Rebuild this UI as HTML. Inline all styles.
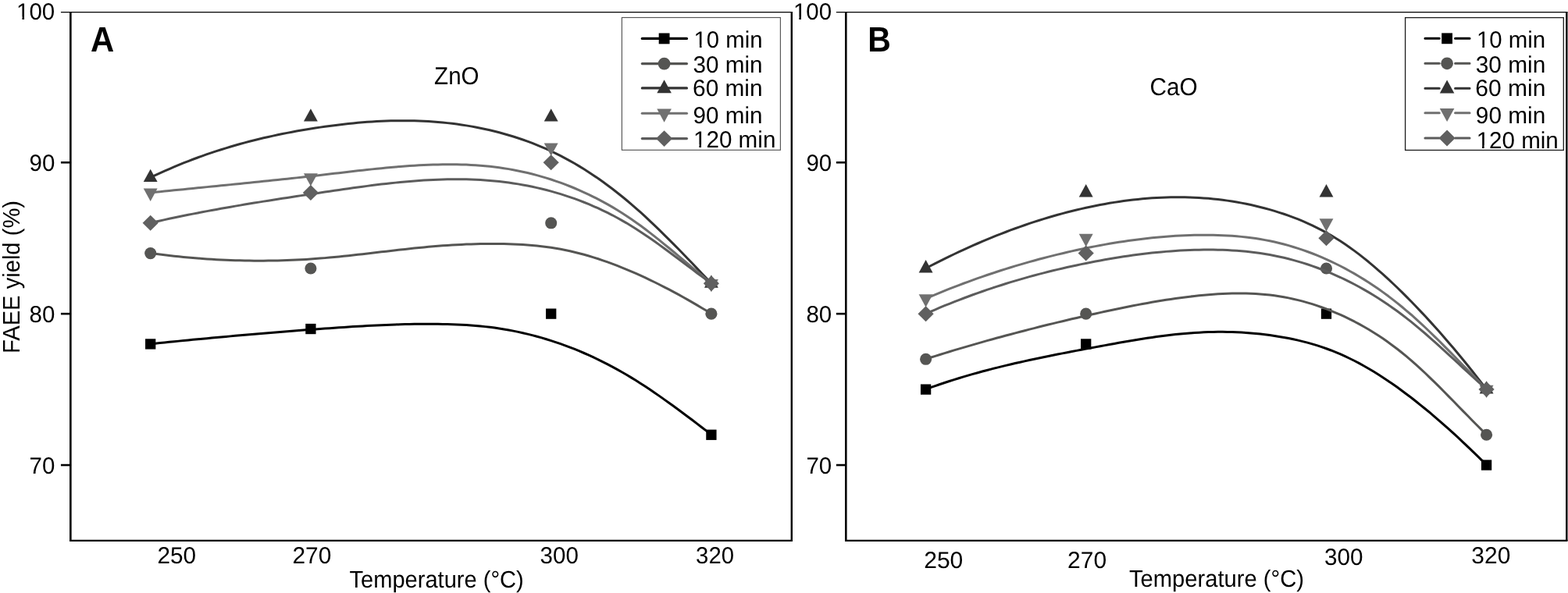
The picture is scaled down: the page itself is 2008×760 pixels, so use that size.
<!DOCTYPE html>
<html lang="en"><head><meta charset="utf-8"><title>FAEE yield vs temperature</title>
<style>html,body{margin:0;padding:0;background:#fff;}body{width:2008px;height:760px;overflow:hidden;}svg{display:block;}text{font-family:"Liberation Sans", sans-serif;fill:#000;text-rendering:geometricPrecision;}</style></head><body>
<svg width="2008" height="760" viewBox="0 0 2008 760">
<defs><clipPath id="c1" clipPathUnits="userSpaceOnUse"><path clip-rule="evenodd" d="M-5,-40H400V15H-5Z M0,-3.3H7.42V1H0Z M10.03,-3.3H16.2V1H10.03Z"/></clipPath></defs>
<rect x="0" y="0" width="2008" height="760" fill="#fff"/>
<g stroke="#000" fill="none">
<line x1="77.94999999999999" y1="15.6" x2="1015.0" y2="15.6" stroke-width="1.45"/>
<line x1="90.35" y1="15.6" x2="90.35" y2="693.9499999999999" stroke-width="2.6"/>
<line x1="89.14999999999999" y1="692.9" x2="1015.0" y2="692.9" stroke-width="2.15"/>
<line x1="1013.8" y1="15.6" x2="1013.8" y2="692.9" stroke-width="2.4"/>
<line x1="77.94999999999999" y1="208.25" x2="90.35" y2="208.25" stroke-width="2.6"/>
<line x1="77.94999999999999" y1="402.15" x2="90.35" y2="402.15" stroke-width="2.6"/>
<line x1="77.94999999999999" y1="596.05" x2="90.35" y2="596.05" stroke-width="2.6"/>
</g>
<text transform="translate(21.03,24.90) scale(1.0000,1.0150)" font-size="29.5" clip-path="url(#c1)">100</text>
<text transform="translate(37.53,218.80) scale(1.0000,1.0150)" font-size="29.5">90</text>
<text transform="translate(37.53,412.70) scale(1.0000,1.0150)" font-size="29.5">80</text>
<text transform="translate(37.53,606.60) scale(1.0000,1.0150)" font-size="29.5">70</text>
<text transform="translate(201.45,722.00) scale(1.0083,1.0150)" font-size="29.5">250</text>
<text transform="translate(374.48,721.60) scale(1.0123,1.0150)" font-size="29.5">270</text>
<text transform="translate(691.57,721.80) scale(1.0021,1.0150)" font-size="29.5">300</text>
<text transform="translate(891.08,721.80) scale(0.9936,1.0150)" font-size="29.5">320</text>
<text transform="translate(447.48,752.75) scale(0.9852,1.0350)" font-size="29.5">Temperature (°C)</text>
<text transform="translate(115.94,66.00) scale(1.4177,1.5309)" font-size="29.5" font-weight="bold">A</text>
<text transform="translate(556.12,107.90) scale(1.0014,1.0700)" font-size="29.5">ZnO</text>
<path d="M192.7,440.76 L198.7,440.14 L204.8,439.53 L210.8,438.92 L216.8,438.32 L222.9,437.72 L228.9,437.12 L234.9,436.53 L241.0,435.94 L247.0,435.36 L253.1,434.78 L259.1,434.21 L265.1,433.64 L271.2,433.08 L277.2,432.52 L283.2,431.97 L289.3,431.42 L295.3,430.88 L301.3,430.34 L307.4,429.80 L313.4,429.27 L319.4,428.75 L325.5,428.23 L331.5,427.72 L337.5,427.21 L343.6,426.70 L349.6,426.20 L355.7,425.71 L361.7,425.22 L367.7,424.74 L373.8,424.26 L379.8,423.79 L385.8,423.32 L391.9,422.86 L397.9,422.40 L403.9,421.95 L410.0,421.50 L416.0,421.06 L422.0,420.63 L428.1,420.21 L434.1,419.79 L440.1,419.39 L446.2,418.99 L452.2,418.61 L458.3,418.25 L464.3,417.90 L470.3,417.56 L476.4,417.24 L482.4,416.94 L488.4,416.67 L494.5,416.41 L500.5,416.17 L506.5,415.96 L512.6,415.77 L518.6,415.61 L524.6,415.48 L530.7,415.37 L536.7,415.29 L542.7,415.24 L548.8,415.23 L554.8,415.24 L560.9,415.30 L566.9,415.39 L572.9,415.52 L579.0,415.70 L585.0,415.94 L591.0,416.22 L597.1,416.57 L603.1,416.98 L609.1,417.45 L615.2,418.00 L621.2,418.62 L627.2,419.32 L633.3,420.10 L639.3,420.97 L645.3,421.93 L651.4,422.98 L657.4,424.12 L663.5,425.35 L669.5,426.67 L675.5,428.09 L681.6,429.60 L687.6,431.20 L693.6,432.90 L699.7,434.69 L705.7,436.57 L711.7,438.56 L717.8,440.64 L723.8,442.81 L729.8,445.09 L735.9,447.46 L741.9,449.93 L747.9,452.50 L754.0,455.18 L760.0,457.95 L766.1,460.83 L772.1,463.81 L778.1,466.89 L784.2,470.08 L790.2,473.37 L796.2,476.77 L802.3,480.27 L808.3,483.88 L814.3,487.60 L820.4,491.42 L826.4,495.34 L832.4,499.36 L838.5,503.46 L844.5,507.63 L850.5,511.88 L856.6,516.20 L862.6,520.58 L868.7,525.01 L874.7,529.49 L880.7,534.02 L886.8,538.57 L892.8,543.16 L898.8,547.77 L904.9,552.40 L910.9,557.04" fill="none" stroke="#000000" stroke-width="3.0" stroke-linejoin="round" stroke-linecap="butt"/>
<rect x="186.05" y="434.28" width="13.3" height="13.3" fill="#000000"/>
<rect x="391.25" y="414.89" width="13.3" height="13.3" fill="#000000"/>
<rect x="699.05" y="395.50" width="13.3" height="13.3" fill="#000000"/>
<rect x="904.25" y="550.62" width="13.3" height="13.3" fill="#000000"/>
<path d="M192.7,324.50 L198.7,325.31 L204.8,326.08 L210.8,326.82 L216.8,327.53 L222.9,328.20 L228.9,328.83 L234.9,329.43 L241.0,330.00 L247.0,330.53 L253.1,331.02 L259.1,331.48 L265.1,331.90 L271.2,332.29 L277.2,332.64 L283.2,332.95 L289.3,333.23 L295.3,333.48 L301.3,333.68 L307.4,333.85 L313.4,333.99 L319.4,334.09 L325.5,334.15 L331.5,334.17 L337.5,334.16 L343.6,334.11 L349.6,334.02 L355.7,333.90 L361.7,333.74 L367.7,333.55 L373.8,333.31 L379.8,333.04 L385.8,332.73 L391.9,332.38 L397.9,332.00 L403.9,331.58 L410.0,331.12 L416.0,330.62 L422.0,330.09 L428.1,329.53 L434.1,328.94 L440.1,328.32 L446.2,327.69 L452.2,327.03 L458.3,326.36 L464.3,325.67 L470.3,324.97 L476.4,324.27 L482.4,323.56 L488.4,322.85 L494.5,322.15 L500.5,321.44 L506.5,320.75 L512.6,320.06 L518.6,319.39 L524.6,318.74 L530.7,318.10 L536.7,317.49 L542.7,316.90 L548.8,316.34 L554.8,315.81 L560.9,315.32 L566.9,314.85 L572.9,314.43 L579.0,314.04 L585.0,313.69 L591.0,313.38 L597.1,313.11 L603.1,312.88 L609.1,312.70 L615.2,312.55 L621.2,312.46 L627.2,312.41 L633.3,312.40 L639.3,312.45 L645.3,312.54 L651.4,312.69 L657.4,312.90 L663.5,313.18 L669.5,313.52 L675.5,313.94 L681.6,314.44 L687.6,315.01 L693.6,315.68 L699.7,316.44 L705.7,317.29 L711.7,318.25 L717.8,319.31 L723.8,320.49 L729.8,321.78 L735.9,323.18 L741.9,324.69 L747.9,326.31 L754.0,328.03 L760.0,329.86 L766.1,331.78 L772.1,333.81 L778.1,335.93 L784.2,338.14 L790.2,340.43 L796.2,342.82 L802.3,345.29 L808.3,347.84 L814.3,350.47 L820.4,353.18 L826.4,355.96 L832.4,358.82 L838.5,361.74 L844.5,364.74 L850.5,367.81 L856.6,370.95 L862.6,374.15 L868.7,377.42 L874.7,380.75 L880.7,384.15 L886.8,387.60 L892.8,391.12 L898.8,394.69 L904.9,398.32 L910.9,402.00" fill="none" stroke="#555553" stroke-width="3.0" stroke-linejoin="round" stroke-linecap="butt"/>
<circle cx="192.70" cy="324.59" r="7.55" fill="#555553"/>
<circle cx="397.90" cy="343.98" r="7.55" fill="#555553"/>
<circle cx="705.70" cy="285.81" r="7.55" fill="#555553"/>
<circle cx="910.90" cy="402.15" r="7.55" fill="#555553"/>
<path d="M192.7,227.60 L198.7,224.72 L204.8,221.91 L210.8,219.18 L216.8,216.52 L222.9,213.93 L228.9,211.41 L234.9,208.95 L241.0,206.57 L247.0,204.25 L253.1,202.00 L259.1,199.82 L265.1,197.70 L271.2,195.64 L277.2,193.64 L283.2,191.70 L289.3,189.82 L295.3,188.00 L301.3,186.24 L307.4,184.54 L313.4,182.89 L319.4,181.29 L325.5,179.75 L331.5,178.26 L337.5,176.82 L343.6,175.43 L349.6,174.09 L355.7,172.80 L361.7,171.55 L367.7,170.35 L373.8,169.19 L379.8,168.08 L385.8,167.01 L391.9,165.99 L397.9,165.00 L403.9,164.05 L410.0,163.14 L416.0,162.27 L422.0,161.44 L428.1,160.65 L434.1,159.90 L440.1,159.19 L446.2,158.53 L452.2,157.92 L458.3,157.35 L464.3,156.84 L470.3,156.37 L476.4,155.96 L482.4,155.60 L488.4,155.30 L494.5,155.05 L500.5,154.86 L506.5,154.73 L512.6,154.66 L518.6,154.65 L524.6,154.71 L530.7,154.83 L536.7,155.02 L542.7,155.27 L548.8,155.60 L554.8,155.99 L560.9,156.46 L566.9,157.00 L572.9,157.62 L579.0,158.31 L585.0,159.08 L591.0,159.93 L597.1,160.86 L603.1,161.88 L609.1,162.98 L615.2,164.17 L621.2,165.44 L627.2,166.81 L633.3,168.26 L639.3,169.81 L645.3,171.45 L651.4,173.19 L657.4,175.03 L663.5,176.97 L669.5,179.02 L675.5,181.18 L681.6,183.45 L687.6,185.85 L693.6,188.36 L699.7,190.99 L705.7,193.75 L711.7,196.64 L717.8,199.66 L723.8,202.82 L729.8,206.11 L735.9,209.55 L741.9,213.12 L747.9,216.83 L754.0,220.68 L760.0,224.68 L766.1,228.81 L772.1,233.07 L778.1,237.48 L784.2,242.03 L790.2,246.72 L796.2,251.54 L802.3,256.51 L808.3,261.61 L814.3,266.85 L820.4,272.23 L826.4,277.73 L832.4,283.35 L838.5,289.08 L844.5,294.91 L850.5,300.82 L856.6,306.83 L862.6,312.90 L868.7,319.05 L874.7,325.25 L880.7,331.50 L886.8,337.79 L892.8,344.12 L898.8,350.46 L904.9,356.83 L910.9,363.20" fill="none" stroke="#333333" stroke-width="3.0" stroke-linejoin="round" stroke-linecap="butt"/>
<polygon points="192.70,216.71 201.65,233.11 183.75,233.11" fill="#333333"/>
<polygon points="397.90,139.15 406.85,155.55 388.95,155.55" fill="#333333"/>
<polygon points="705.70,139.15 714.65,155.55 696.75,155.55" fill="#333333"/>
<polygon points="910.90,352.44 919.85,368.84 901.95,368.84" fill="#333333"/>
<path d="M192.7,246.96 L198.7,246.33 L204.8,245.71 L210.8,245.09 L216.8,244.47 L222.9,243.86 L228.9,243.25 L234.9,242.64 L241.0,242.04 L247.0,241.43 L253.1,240.83 L259.1,240.23 L265.1,239.63 L271.2,239.03 L277.2,238.43 L283.2,237.83 L289.3,237.23 L295.3,236.63 L301.3,236.02 L307.4,235.42 L313.4,234.81 L319.4,234.20 L325.5,233.58 L331.5,232.97 L337.5,232.34 L343.6,231.72 L349.6,231.09 L355.7,230.46 L361.7,229.82 L367.7,229.17 L373.8,228.52 L379.8,227.87 L385.8,227.20 L391.9,226.53 L397.9,225.85 L403.9,225.17 L410.0,224.48 L416.0,223.78 L422.0,223.07 L428.1,222.36 L434.1,221.65 L440.1,220.94 L446.2,220.24 L452.2,219.55 L458.3,218.86 L464.3,218.18 L470.3,217.52 L476.4,216.88 L482.4,216.25 L488.4,215.64 L494.5,215.06 L500.5,214.50 L506.5,213.98 L512.6,213.48 L518.6,213.01 L524.6,212.58 L530.7,212.19 L536.7,211.84 L542.7,211.53 L548.8,211.26 L554.8,211.05 L560.9,210.88 L566.9,210.76 L572.9,210.71 L579.0,210.71 L585.0,210.77 L591.0,210.91 L597.1,211.11 L603.1,211.39 L609.1,211.74 L615.2,212.17 L621.2,212.69 L627.2,213.29 L633.3,213.99 L639.3,214.78 L645.3,215.66 L651.4,216.64 L657.4,217.73 L663.5,218.91 L669.5,220.19 L675.5,221.57 L681.6,223.06 L687.6,224.65 L693.6,226.34 L699.7,228.14 L705.7,230.05 L711.7,232.07 L717.8,234.19 L723.8,236.43 L729.8,238.77 L735.9,241.24 L741.9,243.81 L747.9,246.51 L754.0,249.33 L760.0,252.28 L766.1,255.36 L772.1,258.56 L778.1,261.91 L784.2,265.39 L790.2,269.01 L796.2,272.77 L802.3,276.68 L808.3,280.74 L814.3,284.95 L820.4,289.31 L826.4,293.79 L832.4,298.40 L838.5,303.11 L844.5,307.91 L850.5,312.80 L856.6,317.75 L862.6,322.76 L868.7,327.80 L874.7,332.88 L880.7,337.97 L886.8,343.06 L892.8,348.15 L898.8,353.20 L904.9,358.23 L910.9,363.20" fill="none" stroke="#707070" stroke-width="3.0" stroke-linejoin="round" stroke-linecap="butt"/>
<polygon points="183.75,241.56 201.65,241.56 192.70,257.96" fill="#707070"/>
<polygon points="388.95,222.17 406.85,222.17 397.90,238.57" fill="#707070"/>
<polygon points="696.75,183.39 714.65,183.39 705.70,199.79" fill="#707070"/>
<polygon points="901.95,357.90 919.85,357.90 910.90,374.30" fill="#707070"/>
<path d="M192.7,285.70 L198.7,284.32 L204.8,282.96 L210.8,281.62 L216.8,280.31 L222.9,279.03 L228.9,277.76 L234.9,276.52 L241.0,275.30 L247.0,274.11 L253.1,272.93 L259.1,271.77 L265.1,270.63 L271.2,269.50 L277.2,268.40 L283.2,267.31 L289.3,266.24 L295.3,265.18 L301.3,264.14 L307.4,263.11 L313.4,262.09 L319.4,261.08 L325.5,260.09 L331.5,259.11 L337.5,258.14 L343.6,257.17 L349.6,256.22 L355.7,255.27 L361.7,254.33 L367.7,253.40 L373.8,252.47 L379.8,251.55 L385.8,250.64 L391.9,249.72 L397.9,248.81 L403.9,247.90 L410.0,247.00 L416.0,246.09 L422.0,245.19 L428.1,244.30 L434.1,243.41 L440.1,242.53 L446.2,241.67 L452.2,240.82 L458.3,239.98 L464.3,239.16 L470.3,238.37 L476.4,237.59 L482.4,236.84 L488.4,236.11 L494.5,235.42 L500.5,234.75 L506.5,234.12 L512.6,233.52 L518.6,232.95 L524.6,232.43 L530.7,231.94 L536.7,231.50 L542.7,231.10 L548.8,230.75 L554.8,230.45 L560.9,230.19 L566.9,229.99 L572.9,229.85 L579.0,229.76 L585.0,229.74 L591.0,229.77 L597.1,229.87 L603.1,230.04 L609.1,230.28 L615.2,230.58 L621.2,230.97 L627.2,231.42 L633.3,231.96 L639.3,232.58 L645.3,233.27 L651.4,234.06 L657.4,234.93 L663.5,235.88 L669.5,236.93 L675.5,238.06 L681.6,239.29 L687.6,240.61 L693.6,242.02 L699.7,243.53 L705.7,245.14 L711.7,246.84 L717.8,248.65 L723.8,250.56 L729.8,252.57 L735.9,254.68 L741.9,256.91 L747.9,259.24 L754.0,261.70 L760.0,264.27 L766.1,266.96 L772.1,269.78 L778.1,272.72 L784.2,275.79 L790.2,279.00 L796.2,282.35 L802.3,285.83 L808.3,289.46 L814.3,293.23 L820.4,297.14 L826.4,301.17 L832.4,305.32 L838.5,309.56 L844.5,313.89 L850.5,318.29 L856.6,322.74 L862.6,327.24 L868.7,331.77 L874.7,336.32 L880.7,340.87 L886.8,345.41 L892.8,349.93 L898.8,354.41 L904.9,358.83 L910.9,363.20" fill="none" stroke="#5c5c5c" stroke-width="3.0" stroke-linejoin="round" stroke-linecap="butt"/>
<polygon points="192.70,275.81 202.80,285.81 192.70,295.81 182.60,285.81" fill="#606060"/>
<polygon points="397.90,237.03 408.00,247.03 397.90,257.03 387.80,247.03" fill="#606060"/>
<polygon points="705.70,198.25 715.80,208.25 705.70,218.25 695.60,208.25" fill="#606060"/>
<polygon points="910.90,353.37 921.00,363.37 910.90,373.37 900.80,363.37" fill="#606060"/>
<rect x="796.4" y="22.5" width="203.00" height="169.80" fill="#fff" stroke="#555555" stroke-width="1.15"/>
<line x1="822.3" y1="49.4" x2="879.5" y2="49.4" stroke="#000000" stroke-width="3.1" stroke-linecap="round"/>
<rect x="843.95" y="42.75" width="13.3" height="13.3" fill="#000000" transform="translate(850.6,49.4) scale(1.04) translate(-850.6,-49.4)"/>
<text transform="translate(888.57,60.90) scale(0.9932,1.0150)" font-size="29.5" clip-path="url(#c1)">10 min</text>
<line x1="822.3" y1="81.6" x2="879.5" y2="81.6" stroke="#555553" stroke-width="3.1" stroke-linecap="round"/>
<circle cx="850.60" cy="81.60" r="7.55" fill="#555553" transform="translate(850.6,81.6) scale(1.04) translate(-850.6,-81.6)"/>
<text transform="translate(887.47,93.20) scale(1.0058,1.0150)" font-size="29.5">30 min</text>
<line x1="822.3" y1="112.9" x2="879.5" y2="112.9" stroke="#333333" stroke-width="3.1" stroke-linecap="round"/>
<polygon points="850.60,102.57 859.55,118.97 841.65,118.97" fill="#333333" transform="translate(850.6,112.9) scale(1.04) translate(-850.6,-112.9)"/>
<text transform="translate(887.08,122.60) scale(1.0103,1.0150)" font-size="29.5">60 min</text>
<line x1="822.3" y1="145.3" x2="879.5" y2="145.3" stroke="#707070" stroke-width="3.1" stroke-linecap="round"/>
<polygon points="841.65,139.83 859.55,139.83 850.60,156.23" fill="#707070" transform="translate(850.6,145.3) scale(1.04) translate(-850.6,-145.3)"/>
<text transform="translate(887.62,157.50) scale(1.0041,1.0150)" font-size="29.5">90 min</text>
<line x1="822.3" y1="177.6" x2="879.5" y2="177.6" stroke="#5c5c5c" stroke-width="3.1" stroke-linecap="round"/>
<polygon points="850.60,167.60 860.70,177.60 850.60,187.60 840.50,177.60" fill="#606060" transform="translate(850.6,177.6) scale(1.04) translate(-850.6,-177.6)"/>
<text transform="translate(887.94,188.70) scale(1.0045,1.0150)" font-size="29.5" clip-path="url(#c1)">120 min</text>
<g stroke="#000" fill="none">
<line x1="1070.8999999999999" y1="15.6" x2="2007.5" y2="15.6" stroke-width="1.45"/>
<line x1="1083.3" y1="15.6" x2="1083.3" y2="693.9499999999999" stroke-width="2.6"/>
<line x1="1082.1" y1="692.9" x2="2007.5" y2="692.9" stroke-width="2.15"/>
<line x1="2006.3" y1="15.6" x2="2006.3" y2="692.9" stroke-width="2.4"/>
<line x1="1070.8999999999999" y1="208.25" x2="1083.3" y2="208.25" stroke-width="2.6"/>
<line x1="1070.8999999999999" y1="402.15" x2="1083.3" y2="402.15" stroke-width="2.6"/>
<line x1="1070.8999999999999" y1="596.05" x2="1083.3" y2="596.05" stroke-width="2.6"/>
</g>
<text transform="translate(1015.88,24.90) scale(1.0000,1.0150)" font-size="29.5" clip-path="url(#c1)">100</text>
<text transform="translate(1032.38,218.80) scale(1.0000,1.0150)" font-size="29.5">90</text>
<text transform="translate(1032.38,412.70) scale(1.0000,1.0150)" font-size="29.5">80</text>
<text transform="translate(1032.38,606.60) scale(1.0000,1.0150)" font-size="29.5">70</text>
<text transform="translate(1183.17,728.10) scale(1.0188,1.0150)" font-size="29.5">250</text>
<text transform="translate(1367.08,728.10) scale(1.0166,1.0150)" font-size="29.5">270</text>
<text transform="translate(1696.07,724.00) scale(1.0064,1.0150)" font-size="29.5">300</text>
<text transform="translate(1884.36,721.85) scale(1.0149,1.0150)" font-size="29.5">320</text>
<text transform="translate(1445.98,752.00) scale(0.9887,1.0350)" font-size="29.5">Temperature (°C)</text>
<text transform="translate(1111.22,66.00) scale(1.3889,1.5309)" font-size="29.5" font-weight="bold">B</text>
<text transform="translate(1472.49,121.50) scale(1.0078,1.0700)" font-size="29.5">CaO</text>
<path d="M1185.6,498.90 L1191.6,496.71 L1197.7,494.58 L1203.7,492.50 L1209.7,490.48 L1215.8,488.51 L1221.8,486.59 L1227.8,484.72 L1233.9,482.90 L1239.9,481.12 L1245.9,479.39 L1252.0,477.71 L1258.0,476.06 L1264.0,474.45 L1270.1,472.89 L1276.1,471.35 L1282.1,469.86 L1288.2,468.40 L1294.2,466.96 L1300.2,465.56 L1306.3,464.19 L1312.3,462.85 L1318.3,461.53 L1324.4,460.23 L1330.4,458.96 L1336.4,457.71 L1342.5,456.48 L1348.5,455.26 L1354.5,454.06 L1360.6,452.88 L1366.6,451.71 L1372.6,450.55 L1378.7,449.40 L1384.7,448.25 L1390.7,447.12 L1396.8,445.99 L1402.8,444.86 L1408.8,443.73 L1414.9,442.61 L1420.9,441.50 L1426.9,440.41 L1433.0,439.32 L1439.0,438.26 L1445.0,437.22 L1451.1,436.20 L1457.1,435.20 L1463.1,434.24 L1469.2,433.31 L1475.2,432.42 L1481.2,431.56 L1487.3,430.75 L1493.3,429.99 L1499.3,429.27 L1505.4,428.60 L1511.4,427.98 L1517.4,427.43 L1523.5,426.93 L1529.5,426.49 L1535.5,426.13 L1541.6,425.83 L1547.6,425.60 L1553.7,425.45 L1559.7,425.37 L1565.7,425.36 L1571.8,425.43 L1577.8,425.58 L1583.8,425.81 L1589.9,426.11 L1595.9,426.49 L1601.9,426.95 L1608.0,427.49 L1614.0,428.11 L1620.0,428.81 L1626.1,429.59 L1632.1,430.46 L1638.1,431.40 L1644.2,432.44 L1650.2,433.58 L1656.2,434.81 L1662.3,436.15 L1668.3,437.60 L1674.3,439.17 L1680.4,440.86 L1686.4,442.68 L1692.4,444.64 L1698.5,446.73 L1704.5,448.97 L1710.5,451.37 L1716.6,453.91 L1722.6,456.62 L1728.6,459.49 L1734.7,462.51 L1740.7,465.69 L1746.7,469.01 L1752.8,472.47 L1758.8,476.08 L1764.8,479.82 L1770.9,483.70 L1776.9,487.70 L1782.9,491.84 L1789.0,496.09 L1795.0,500.46 L1801.0,504.94 L1807.1,509.54 L1813.1,514.24 L1819.1,519.05 L1825.2,523.96 L1831.2,528.97 L1837.2,534.08 L1843.3,539.28 L1849.3,544.57 L1855.3,549.94 L1861.4,555.41 L1867.4,560.95 L1873.4,566.58 L1879.5,572.28 L1885.5,578.06 L1891.5,583.90 L1897.6,589.82 L1903.6,595.80" fill="none" stroke="#000000" stroke-width="3.0" stroke-linejoin="round" stroke-linecap="butt"/>
<rect x="1178.95" y="492.45" width="13.3" height="13.3" fill="#000000"/>
<rect x="1384.05" y="434.28" width="13.3" height="13.3" fill="#000000"/>
<rect x="1691.85" y="395.50" width="13.3" height="13.3" fill="#000000"/>
<rect x="1896.95" y="589.40" width="13.3" height="13.3" fill="#000000"/>
<path d="M1185.6,460.14 L1191.6,458.22 L1197.7,456.33 L1203.7,454.45 L1209.7,452.59 L1215.8,450.75 L1221.8,448.93 L1227.8,447.13 L1233.9,445.34 L1239.9,443.57 L1245.9,441.82 L1252.0,440.09 L1258.0,438.37 L1264.0,436.67 L1270.1,434.99 L1276.1,433.32 L1282.1,431.68 L1288.2,430.04 L1294.2,428.43 L1300.2,426.83 L1306.3,425.25 L1312.3,423.68 L1318.3,422.13 L1324.4,420.59 L1330.4,419.07 L1336.4,417.56 L1342.5,416.07 L1348.5,414.59 L1354.5,413.13 L1360.6,411.69 L1366.6,410.25 L1372.6,408.83 L1378.7,407.43 L1384.7,406.04 L1390.7,404.66 L1396.8,403.30 L1402.8,401.95 L1408.8,400.61 L1414.9,399.29 L1420.9,397.99 L1426.9,396.70 L1433.0,395.44 L1439.0,394.20 L1445.0,392.98 L1451.1,391.79 L1457.1,390.63 L1463.1,389.50 L1469.2,388.40 L1475.2,387.33 L1481.2,386.29 L1487.3,385.30 L1493.3,384.34 L1499.3,383.42 L1505.4,382.55 L1511.4,381.71 L1517.4,380.93 L1523.5,380.19 L1529.5,379.50 L1535.5,378.86 L1541.6,378.27 L1547.6,377.74 L1553.7,377.27 L1559.7,376.85 L1565.7,376.51 L1571.8,376.24 L1577.8,376.05 L1583.8,375.95 L1589.9,375.93 L1595.9,376.02 L1601.9,376.20 L1608.0,376.48 L1614.0,376.88 L1620.0,377.40 L1626.1,378.03 L1632.1,378.80 L1638.1,379.69 L1644.2,380.72 L1650.2,381.88 L1656.2,383.17 L1662.3,384.59 L1668.3,386.15 L1674.3,387.84 L1680.4,389.66 L1686.4,391.62 L1692.4,393.72 L1698.5,395.95 L1704.5,398.31 L1710.5,400.81 L1716.6,403.45 L1722.6,406.23 L1728.6,409.14 L1734.7,412.20 L1740.7,415.41 L1746.7,418.77 L1752.8,422.29 L1758.8,425.98 L1764.8,429.83 L1770.9,433.85 L1776.9,438.05 L1782.9,442.42 L1789.0,446.98 L1795.0,451.73 L1801.0,456.67 L1807.1,461.81 L1813.1,467.14 L1819.1,472.63 L1825.2,478.27 L1831.2,484.05 L1837.2,489.94 L1843.3,495.92 L1849.3,501.98 L1855.3,508.11 L1861.4,514.27 L1867.4,520.45 L1873.4,526.65 L1879.5,532.82 L1885.5,538.97 L1891.5,545.07 L1897.6,551.10 L1903.6,557.04" fill="none" stroke="#555553" stroke-width="3.0" stroke-linejoin="round" stroke-linecap="butt"/>
<circle cx="1185.60" cy="460.32" r="7.55" fill="#555553"/>
<circle cx="1390.70" cy="402.15" r="7.55" fill="#555553"/>
<circle cx="1698.50" cy="343.98" r="7.55" fill="#555553"/>
<circle cx="1903.60" cy="557.27" r="7.55" fill="#555553"/>
<path d="M1185.6,343.86 L1191.6,340.72 L1197.7,337.62 L1203.7,334.57 L1209.7,331.58 L1215.8,328.63 L1221.8,325.73 L1227.8,322.88 L1233.9,320.09 L1239.9,317.34 L1245.9,314.64 L1252.0,312.00 L1258.0,309.41 L1264.0,306.87 L1270.1,304.38 L1276.1,301.95 L1282.1,299.56 L1288.2,297.24 L1294.2,294.96 L1300.2,292.75 L1306.3,290.58 L1312.3,288.47 L1318.3,286.42 L1324.4,284.42 L1330.4,282.48 L1336.4,280.60 L1342.5,278.77 L1348.5,277.00 L1354.5,275.29 L1360.6,273.63 L1366.6,272.03 L1372.6,270.50 L1378.7,269.02 L1384.7,267.60 L1390.7,266.24 L1396.8,264.94 L1402.8,263.70 L1408.8,262.52 L1414.9,261.40 L1420.9,260.35 L1426.9,259.36 L1433.0,258.44 L1439.0,257.58 L1445.0,256.78 L1451.1,256.06 L1457.1,255.40 L1463.1,254.81 L1469.2,254.30 L1475.2,253.85 L1481.2,253.48 L1487.3,253.17 L1493.3,252.95 L1499.3,252.79 L1505.4,252.71 L1511.4,252.71 L1517.4,252.79 L1523.5,252.95 L1529.5,253.18 L1535.5,253.49 L1541.6,253.89 L1547.6,254.37 L1553.7,254.93 L1559.7,255.58 L1565.7,256.31 L1571.8,257.13 L1577.8,258.03 L1583.8,259.03 L1589.9,260.12 L1595.9,261.31 L1601.9,262.58 L1608.0,263.96 L1614.0,265.43 L1620.0,266.99 L1626.1,268.66 L1632.1,270.43 L1638.1,272.31 L1644.2,274.29 L1650.2,276.39 L1656.2,278.62 L1662.3,280.97 L1668.3,283.46 L1674.3,286.09 L1680.4,288.88 L1686.4,291.81 L1692.4,294.91 L1698.5,298.18 L1704.5,301.62 L1710.5,305.24 L1716.6,309.05 L1722.6,313.06 L1728.6,317.25 L1734.7,321.62 L1740.7,326.18 L1746.7,330.90 L1752.8,335.79 L1758.8,340.84 L1764.8,346.04 L1770.9,351.40 L1776.9,356.89 L1782.9,362.52 L1789.0,368.28 L1795.0,374.17 L1801.0,380.18 L1807.1,386.30 L1813.1,392.53 L1819.1,398.87 L1825.2,405.32 L1831.2,411.88 L1837.2,418.55 L1843.3,425.33 L1849.3,432.21 L1855.3,439.20 L1861.4,446.30 L1867.4,453.50 L1873.4,460.81 L1879.5,468.22 L1885.5,475.73 L1891.5,483.35 L1897.6,491.07 L1903.6,498.89" fill="none" stroke="#333333" stroke-width="3.0" stroke-linejoin="round" stroke-linecap="butt"/>
<polygon points="1185.60,333.05 1194.55,349.45 1176.65,349.45" fill="#333333"/>
<polygon points="1390.70,236.10 1399.65,252.50 1381.75,252.50" fill="#333333"/>
<polygon points="1698.50,236.10 1707.45,252.50 1689.55,252.50" fill="#333333"/>
<polygon points="1903.60,488.17 1912.55,504.57 1894.65,504.57" fill="#333333"/>
<path d="M1185.6,382.60 L1191.6,380.04 L1197.7,377.53 L1203.7,375.05 L1209.7,372.62 L1215.8,370.22 L1221.8,367.87 L1227.8,365.55 L1233.9,363.28 L1239.9,361.04 L1245.9,358.85 L1252.0,356.70 L1258.0,354.58 L1264.0,352.51 L1270.1,350.47 L1276.1,348.48 L1282.1,346.52 L1288.2,344.60 L1294.2,342.73 L1300.2,340.89 L1306.3,339.09 L1312.3,337.33 L1318.3,335.61 L1324.4,333.93 L1330.4,332.29 L1336.4,330.69 L1342.5,329.13 L1348.5,327.60 L1354.5,326.12 L1360.6,324.67 L1366.6,323.26 L1372.6,321.89 L1378.7,320.56 L1384.7,319.27 L1390.7,318.02 L1396.8,316.80 L1402.8,315.63 L1408.8,314.49 L1414.9,313.39 L1420.9,312.33 L1426.9,311.32 L1433.0,310.34 L1439.0,309.41 L1445.0,308.53 L1451.1,307.69 L1457.1,306.89 L1463.1,306.14 L1469.2,305.45 L1475.2,304.80 L1481.2,304.20 L1487.3,303.65 L1493.3,303.16 L1499.3,302.72 L1505.4,302.33 L1511.4,302.00 L1517.4,301.72 L1523.5,301.50 L1529.5,301.34 L1535.5,301.24 L1541.6,301.20 L1547.6,301.22 L1553.7,301.31 L1559.7,301.46 L1565.7,301.68 L1571.8,301.98 L1577.8,302.36 L1583.8,302.83 L1589.9,303.38 L1595.9,304.02 L1601.9,304.77 L1608.0,305.61 L1614.0,306.56 L1620.0,307.62 L1626.1,308.79 L1632.1,310.07 L1638.1,311.48 L1644.2,313.01 L1650.2,314.66 L1656.2,316.44 L1662.3,318.33 L1668.3,320.35 L1674.3,322.50 L1680.4,324.76 L1686.4,327.16 L1692.4,329.68 L1698.5,332.32 L1704.5,335.10 L1710.5,338.00 L1716.6,341.03 L1722.6,344.18 L1728.6,347.47 L1734.7,350.89 L1740.7,354.45 L1746.7,358.15 L1752.8,361.98 L1758.8,365.96 L1764.8,370.09 L1770.9,374.36 L1776.9,378.79 L1782.9,383.36 L1789.0,388.09 L1795.0,392.98 L1801.0,398.03 L1807.1,403.24 L1813.1,408.60 L1819.1,414.11 L1825.2,419.75 L1831.2,425.50 L1837.2,431.35 L1843.3,437.30 L1849.3,443.32 L1855.3,449.41 L1861.4,455.55 L1867.4,461.73 L1873.4,467.93 L1879.5,474.15 L1885.5,480.37 L1891.5,486.58 L1897.6,492.76 L1903.6,498.90" fill="none" stroke="#707070" stroke-width="3.0" stroke-linejoin="round" stroke-linecap="butt"/>
<polygon points="1176.65,377.29 1194.55,377.29 1185.60,393.69" fill="#707070"/>
<polygon points="1381.75,299.73 1399.65,299.73 1390.70,316.13" fill="#707070"/>
<polygon points="1689.55,280.34 1707.45,280.34 1698.50,296.74" fill="#707070"/>
<polygon points="1894.65,493.63 1912.55,493.63 1903.60,510.03" fill="#707070"/>
<path d="M1185.6,402.00 L1191.6,399.36 L1197.7,396.77 L1203.7,394.23 L1209.7,391.73 L1215.8,389.29 L1221.8,386.89 L1227.8,384.54 L1233.9,382.24 L1239.9,379.98 L1245.9,377.77 L1252.0,375.61 L1258.0,373.49 L1264.0,371.41 L1270.1,369.38 L1276.1,367.39 L1282.1,365.45 L1288.2,363.55 L1294.2,361.69 L1300.2,359.88 L1306.3,358.10 L1312.3,356.37 L1318.3,354.68 L1324.4,353.03 L1330.4,351.42 L1336.4,349.85 L1342.5,348.32 L1348.5,346.82 L1354.5,345.37 L1360.6,343.95 L1366.6,342.57 L1372.6,341.23 L1378.7,339.92 L1384.7,338.65 L1390.7,337.41 L1396.8,336.22 L1402.8,335.05 L1408.8,333.92 L1414.9,332.83 L1420.9,331.77 L1426.9,330.75 L1433.0,329.77 L1439.0,328.83 L1445.0,327.93 L1451.1,327.08 L1457.1,326.27 L1463.1,325.50 L1469.2,324.78 L1475.2,324.10 L1481.2,323.47 L1487.3,322.90 L1493.3,322.37 L1499.3,321.89 L1505.4,321.47 L1511.4,321.10 L1517.4,320.78 L1523.5,320.52 L1529.5,320.32 L1535.5,320.17 L1541.6,320.08 L1547.6,320.05 L1553.7,320.09 L1559.7,320.19 L1565.7,320.36 L1571.8,320.60 L1577.8,320.91 L1583.8,321.31 L1589.9,321.79 L1595.9,322.35 L1601.9,323.00 L1608.0,323.74 L1614.0,324.58 L1620.0,325.52 L1626.1,326.56 L1632.1,327.70 L1638.1,328.96 L1644.2,330.32 L1650.2,331.79 L1656.2,333.37 L1662.3,335.07 L1668.3,336.88 L1674.3,338.80 L1680.4,340.84 L1686.4,342.99 L1692.4,345.26 L1698.5,347.64 L1704.5,350.15 L1710.5,352.77 L1716.6,355.52 L1722.6,358.39 L1728.6,361.38 L1734.7,364.50 L1740.7,367.74 L1746.7,371.11 L1752.8,374.62 L1758.8,378.25 L1764.8,382.03 L1770.9,385.94 L1776.9,389.99 L1782.9,394.18 L1789.0,398.51 L1795.0,402.99 L1801.0,407.62 L1807.1,412.39 L1813.1,417.31 L1819.1,422.36 L1825.2,427.51 L1831.2,432.77 L1837.2,438.12 L1843.3,443.54 L1849.3,449.02 L1855.3,454.55 L1861.4,460.12 L1867.4,465.70 L1873.4,471.29 L1879.5,476.88 L1885.5,482.45 L1891.5,487.98 L1897.6,493.47 L1903.6,498.90" fill="none" stroke="#5c5c5c" stroke-width="3.0" stroke-linejoin="round" stroke-linecap="butt"/>
<polygon points="1185.60,392.15 1195.70,402.15 1185.60,412.15 1175.50,402.15" fill="#606060"/>
<polygon points="1390.70,314.59 1400.80,324.59 1390.70,334.59 1380.60,324.59" fill="#606060"/>
<polygon points="1698.50,295.20 1708.60,305.20 1698.50,315.20 1688.40,305.20" fill="#606060"/>
<polygon points="1903.60,489.10 1913.70,499.10 1903.60,509.10 1893.50,499.10" fill="#606060"/>
<rect x="1799.6" y="22.6" width="202.70" height="169.85" fill="#fff" stroke="#1c1c1c" stroke-width="1.3"/>
<path d="M1825.0,49.3 H1843.2 M1863.6,49.3 H1882.0" stroke="#000000" stroke-width="3.1" stroke-linecap="round" fill="none"/>
<rect x="1846.45" y="42.65" width="13.3" height="13.3" fill="#000000" transform="translate(1853.1,49.3) scale(1.04) translate(-1853.1,-49.3)"/>
<text transform="translate(1890.96,60.90) scale(0.9967,1.0150)" font-size="29.5" clip-path="url(#c1)">10 min</text>
<path d="M1825.0,81.3 H1843.2 M1863.6,81.3 H1882.0" stroke="#555553" stroke-width="3.1" stroke-linecap="round" fill="none"/>
<circle cx="1853.10" cy="81.30" r="7.55" fill="#555553" transform="translate(1853.1,81.3) scale(1.04) translate(-1853.1,-81.3)"/>
<text transform="translate(1889.66,93.20) scale(1.0117,1.0150)" font-size="29.5">30 min</text>
<path d="M1825.0,113.2 H1843.2 M1863.6,113.2 H1882.0" stroke="#333333" stroke-width="3.1" stroke-linecap="round" fill="none"/>
<polygon points="1853.10,102.87 1862.05,119.27 1844.15,119.27" fill="#333333" transform="translate(1853.1,113.2) scale(1.04) translate(-1853.1,-113.2)"/>
<text transform="translate(1889.27,123.00) scale(1.0173,1.0150)" font-size="29.5">60 min</text>
<path d="M1825.0,144.7 H1843.2 M1863.6,144.7 H1882.0" stroke="#707070" stroke-width="3.1" stroke-linecap="round" fill="none"/>
<polygon points="1844.15,139.23 1862.05,139.23 1853.10,155.63" fill="#707070" transform="translate(1853.1,144.7) scale(1.04) translate(-1853.1,-144.7)"/>
<text transform="translate(1889.81,157.50) scale(1.0111,1.0150)" font-size="29.5">90 min</text>
<path d="M1825.0,177.0 H1843.2 M1863.6,177.0 H1882.0" stroke="#5c5c5c" stroke-width="3.1" stroke-linecap="round" fill="none"/>
<polygon points="1853.10,167.00 1863.20,177.00 1853.10,187.00 1843.00,177.00" fill="#606060" transform="translate(1853.1,177.0) scale(1.04) translate(-1853.1,-177.0)"/>
<text transform="translate(1890.65,189.50) scale(1.0015,1.0150)" font-size="29.5" clip-path="url(#c1)">120 min</text>
<text transform="translate(25.00,452.98) rotate(-90) scale(0.9880,1.0350)" font-size="29.5">FAEE yield (%)</text>
</svg></body></html>
